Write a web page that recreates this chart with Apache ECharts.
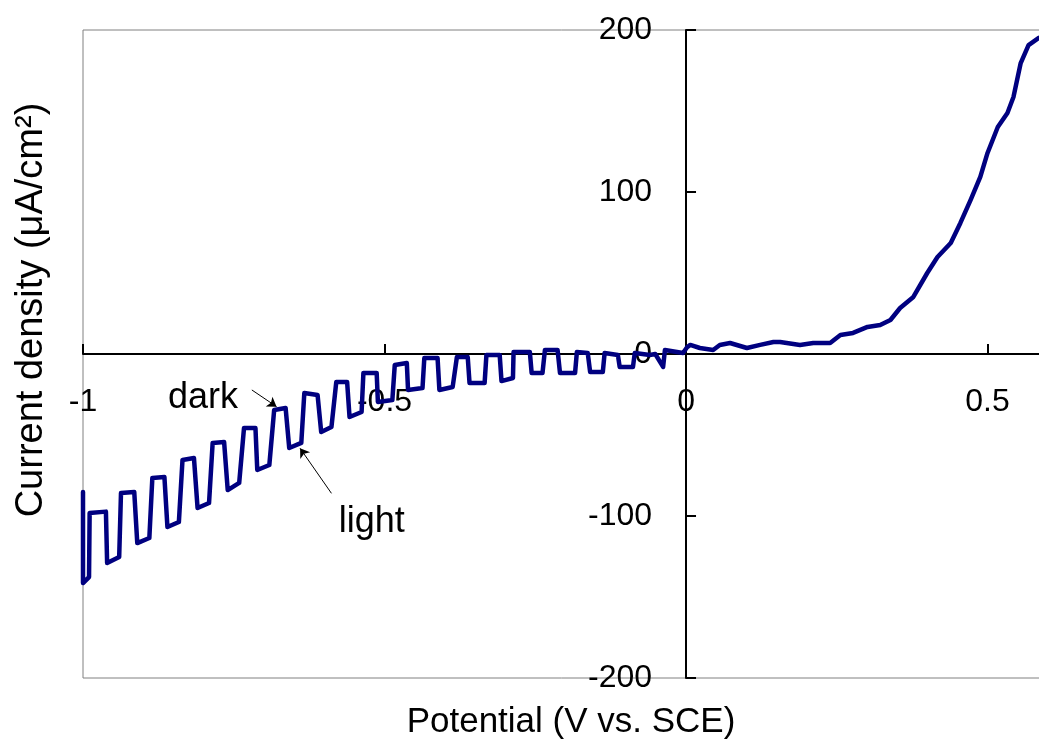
<!DOCTYPE html>
<html>
<head>
<meta charset="utf-8">
<script src="https://cdn.jsdelivr.net/npm/echarts@6/dist/echarts.min.js"></script>
<style>
html,body{margin:0;padding:0;background:#fff;}
#chart{width:1039px;height:745px;}
</style>
</head>
<body>
<div id="chart"></div>
<script>
// Potential (V vs. SCE) and current density (µA/cm²), chopped-light scan
const potential = [
  -1.000, -1.000, -0.990, -0.989, -0.962, -0.960, -0.940, -0.937, -0.915, -0.910,
  -0.890, -0.885, -0.865, -0.860, -0.841, -0.835, -0.816, -0.810, -0.791, -0.785,
  -0.766, -0.760, -0.741, -0.733, -0.714, -0.711, -0.691, -0.683, -0.664, -0.658,
  -0.638, -0.633, -0.611, -0.605, -0.588, -0.580, -0.562, -0.558, -0.538, -0.535,
  -0.513, -0.511, -0.487, -0.483, -0.463, -0.461, -0.437, -0.434, -0.412, -0.409,
  -0.387, -0.380, -0.362, -0.359, -0.334, -0.331, -0.309, -0.306, -0.287, -0.286,
  -0.259, -0.256, -0.238, -0.234, -0.213, -0.209, -0.184, -0.181, -0.163, -0.159,
  -0.138, -0.135, -0.113, -0.110, -0.088, -0.085, -0.060, -0.051, -0.038, -0.035,
  -0.005, 0.002,
  0.007, 0.023, 0.045, 0.056, 0.073, 0.101, 0.123, 0.145, 0.156, 0.189,
  0.211, 0.239, 0.256, 0.277, 0.301, 0.322, 0.339, 0.355, 0.377, 0.400,
  0.417, 0.439, 0.455, 0.472, 0.488, 0.500, 0.517, 0.533, 0.543, 0.555,
  0.568, 0.585
];
const current = [
  -85.2, -141.4, -137.7, -98.1, -97.3, -129.0, -125.3, -85.8, -85.2, -116.7,
  -113.6, -76.5, -75.9, -106.8, -103.7, -65.4, -64.2, -95.1, -92.0, -54.9,
  -54.3, -84.0, -79.6, -45.7, -45.7, -71.6, -68.5, -34.6, -33.3, -58.0,
  -54.9, -24.1, -25.3, -48.1, -45.1, -17.3, -17.3, -38.9, -35.8, -11.7,
  -11.7, -29.6, -28.4, -6.8, -5.6, -22.2, -21.0, -2.5, -2.5, -22.2,
  -20.4, -1.9, -1.9, -17.9, -17.9, -0.6, -0.6, -16.7, -14.8, 1.2,
  1.2, -11.7, -11.7, 2.5, 2.5, -11.7, -11.7, 1.2, 0.6, -11.1,
  -11.1, 0.6, -0.6, -8.0, -8.0, 0.6, -0.6, 0.0, -8.0, 2.5,
  0.6, 4.3,
  5.6, 3.7, 2.5, 5.6, 6.8, 3.7, 5.6, 7.4, 7.4, 5.6,
  6.8, 6.8, 11.7, 13.0, 16.7, 17.9, 21.0, 28.4, 35.2, 50.0,
  59.9, 68.5, 80.9, 95.1, 109.3, 124.1, 140.1, 148.8, 158.6, 179.6,
  190.7, 195.1
];
const xTickValues = [-1, -0.5, 0, 0.5];
const yTickValues = [-200, -100, 0, 100, 200];
const annotationLabels = ['dark', 'light'];
const annotationTextAt = [[-0.801, -27.2], [-0.521, -103.7]];
const annotationArrowFrom = [[-0.720, -22.2], [-0.588, -86.0]];
const annotationArrowTo = [[-0.679, -32.5], [-0.640, -58.2]];
const xTitle = 'Potential (V vs. SCE)';
const yTitle = 'Current density (μA/cm²)';

const FONT = 'Liberation Sans';
const GRID = {left: 83, top: 30, width: 957, height: 648};
const X_MIN = -1, X_MAX = 0.587, Y_MIN = -200, Y_MAX = 200;
// axes cross at zero: shift the axes from the grid edges to the zero lines
const yAxisOffset = -GRID.width * (0 - X_MIN) / (X_MAX - X_MIN);
const xAxisOffset = -GRID.height * (0 - Y_MIN) / (Y_MAX - Y_MIN);

const chart = echarts.init(document.getElementById('chart'), null, {renderer: 'canvas'});
const seriesData = potential.map((v, i) => [v, current[i]]);

const option = {
  animation: false,
  backgroundColor: '#ffffff',
  grid: Object.assign({
    containLabel: false, outerBoundsMode: 'none',
    show: true, borderColor: '#808080', borderWidth: 1, backgroundColor: 'transparent'
  }, GRID),
  xAxis: {
    type: 'value', min: X_MIN, max: X_MAX, interval: 0.5,
    position: 'bottom', offset: xAxisOffset,
    axisLine: {onZero: false, lineStyle: {color: '#000', width: 2}},
    axisTick: {inside: true, length: 10, lineStyle: {color: '#000', width: 2}},
    splitLine: {show: false},
    axisLabel: {
      margin: 32, color: '#000', fontFamily: FONT, fontSize: 32,
      formatter: v => xTickValues.some(t => Math.abs(t - v) < 1e-6) ? String(v) : ''
    }
  },
  yAxis: {
    type: 'value', min: Y_MIN, max: Y_MAX, interval: 100,
    position: 'left', offset: yAxisOffset,
    axisLine: {onZero: false, lineStyle: {color: '#000', width: 2}},
    axisTick: {inside: true, length: 10, lineStyle: {color: '#000', width: 2}},
    splitLine: {show: false},
    axisLabel: {
      margin: 34, color: '#000', fontFamily: FONT, fontSize: 32,
      formatter: v => yTickValues.includes(v) ? String(v) : ''
    }
  },
  graphic: [
    {type: 'text', x: 571, y: 722, style: {text: xTitle, fontFamily: FONT, fontSize: 35, fill: '#000', textAlign: 'center', textVerticalAlign: 'middle'}},
    {type: 'text', x: 32, y: 310, rotation: Math.PI / 2, style: {text: yTitle, fontFamily: FONT, fontSize: 38, fill: '#000', textAlign: 'center', textVerticalAlign: 'middle'}}
  ],
  series: [
    {
      type: 'line', data: seriesData, showSymbol: false, symbol: 'none',
      lineStyle: {color: '#000080', width: 4.5, join: 'round', cap: 'round'},
      z: 3,
      markLine: {
        silent: true, symbol: ['none', 'arrow'], symbolSize: 9,
        label: {show: false},
        lineStyle: {color: '#000', width: 1, type: 'solid'},
        data: annotationArrowFrom.map((p, i) => [{coord: p}, {coord: annotationArrowTo[i]}])
      }
    },
    {
      type: 'scatter', symbolSize: 0, silent: true,
      itemStyle: {opacity: 1},
      data: annotationTextAt.map((p, i) => ({value: p, name: annotationLabels[i]})),
      label: {show: true, position: 'inside', formatter: p => p.name, color: '#000', fontFamily: FONT, fontSize: 36}
    }
  ]
};
chart.setOption(option);
</script>
</body>
</html>
